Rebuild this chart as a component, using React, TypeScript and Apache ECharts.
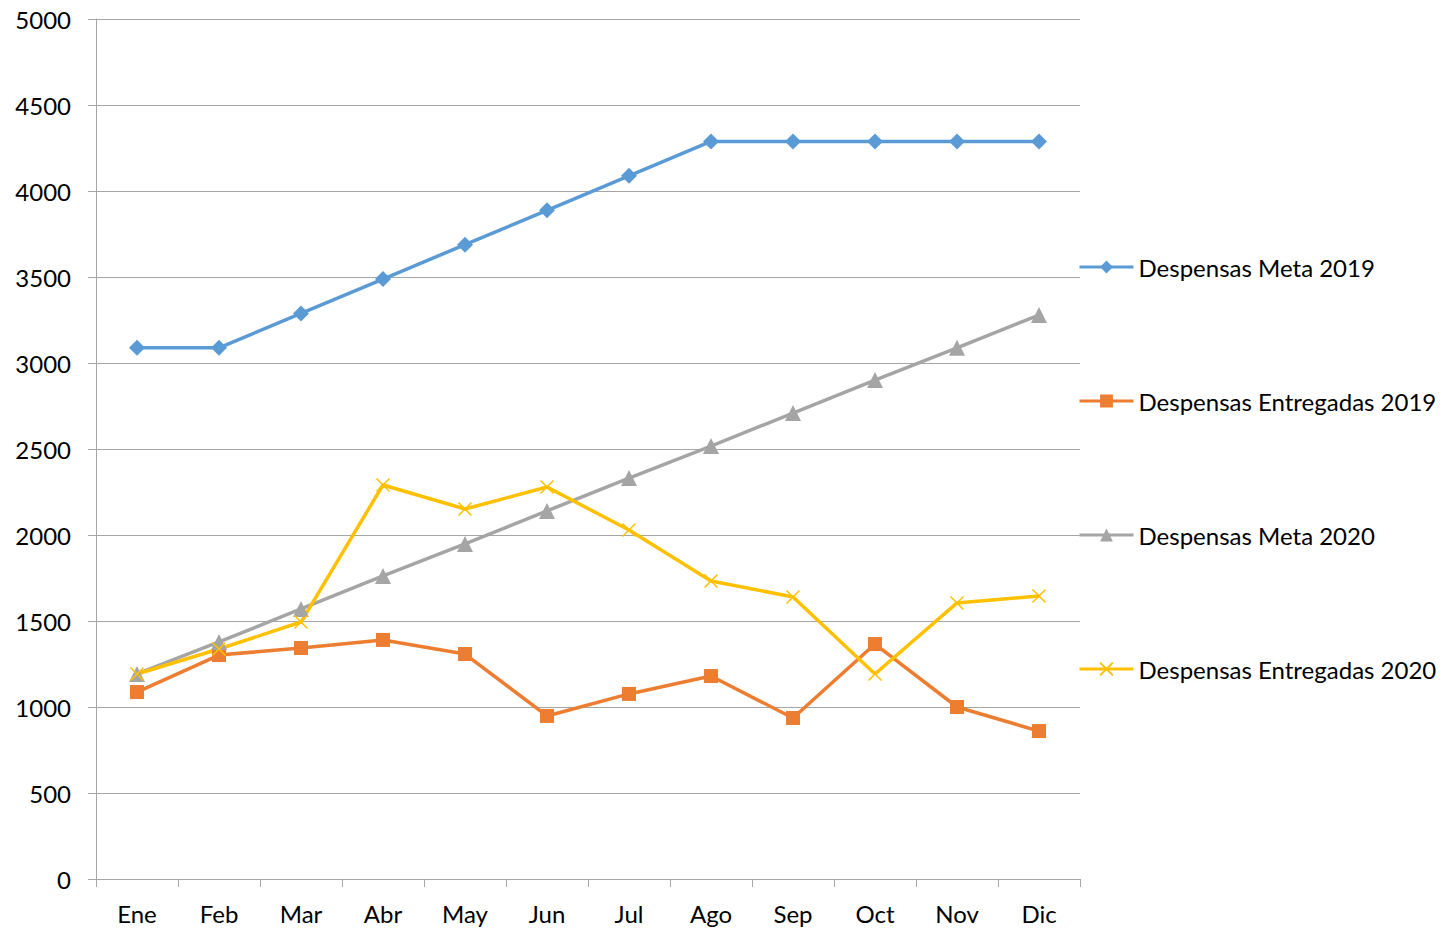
import React, { useEffect, useRef } from "react";
import * as echarts from "echarts";

const months = ["Ene", "Feb", "Mar", "Abr", "May", "Jun", "Jul", "Ago", "Sep", "Oct", "Nov", "Dic"];
const meta2019 = [3088, 3088, 3288, 3488, 3688, 3888, 4088, 4288, 4288, 4288, 4288, 4288];
const entregadas2019 = [1087, 1302, 1343, 1390, 1308, 948, 1076, 1180, 936, 1366, 1000, 860];
const meta2020 = [1192, 1378, 1570, 1762, 1948, 2140, 2331, 2517, 2709, 2901, 3088, 3279];
const entregadas2020 = [1192, 1337, 1494, 2291, 2151, 2279, 2029, 1733, 1640, 1192, 1605, 1645];

const FONT = "Lato";
const FS = 24;

export default function App() {
  const ref = useRef<HTMLDivElement>(null);
  useEffect(() => {
    if (!ref.current) return;
    const chart = echarts.init(ref.current, null, { renderer: "svg" });
    const grid = "#a6a6a6";
    chart.setOption({
      animation: false,
      textStyle: { fontFamily: FONT },
      grid: { left: 96, right: 365, top: 19, bottom: 50, containLabel: false },
      legend: {
        orient: "vertical",
        left: 1078,
        top: 255,
        padding: 0,
        itemWidth: 54,
        itemHeight: 16,
        itemGap: 110,
        lineStyle: { width: 3 },
        textStyle: { fontFamily: FONT, fontSize: FS, color: "#000", lineHeight: 24 },
        data: ["Despensas Meta 2019", "Despensas Entregadas 2019", "Despensas Meta 2020", "Despensas Entregadas 2020"],
      },
      xAxis: {
        type: "category",
        data: months,
        boundaryGap: true,
        axisLine: { show: true, lineStyle: { color: grid, width: 1 } },
        axisTick: { show: true, length: 8, lineStyle: { color: grid } },
        axisLabel: { fontFamily: FONT, fontSize: FS, color: "#000", margin: 22 },
        splitLine: { show: false },
      },
      yAxis: {
        type: "value",
        min: 0,
        max: 5000,
        interval: 500,
        axisLine: { show: true, lineStyle: { color: grid, width: 1 } },
        axisTick: { show: true, length: 8, lineStyle: { color: grid } },
        axisLabel: { fontFamily: FONT, fontSize: FS, color: "#000", margin: 25, formatter: (v: number) => String(v) },
        splitLine: { show: true, lineStyle: { color: grid, width: 1 } },
      },
      series: [
        {
          name: "Despensas Meta 2019",
          type: "line",
          data: meta2019,
          symbol: "diamond",
          symbolSize: 16,
          lineStyle: { color: "#5B9BD5", width: 3.5 },
          itemStyle: { color: "#5B9BD5" },
        },
        {
          name: "Despensas Entregadas 2019",
          type: "line",
          data: entregadas2019,
          symbol: "rect",
          symbolSize: 14,
          lineStyle: { color: "#ED7D31", width: 3.5 },
          itemStyle: { color: "#ED7D31" },
        },
        {
          name: "Despensas Meta 2020",
          type: "line",
          data: meta2020,
          symbol: "triangle",
          symbolSize: 16,
          lineStyle: { color: "#A5A5A5", width: 3.5 },
          itemStyle: { color: "#A5A5A5" },
        },
        {
          name: "Despensas Entregadas 2020",
          type: "line",
          data: entregadas2020,
          symbol: "path://M0,0L10,10M10,0L0,10",
          symbolSize: 13,
          lineStyle: { color: "#FFC000", width: 3.5 },
          itemStyle: { color: "#FFC000", borderColor: "#FFC000", borderWidth: 1.5 },
        },
      ],
    });
    return () => chart.dispose();
  }, []);
  return <div ref={ref} style={{ width: 1445, height: 929, position: "absolute", left: 0, top: 0 }} />;
}
